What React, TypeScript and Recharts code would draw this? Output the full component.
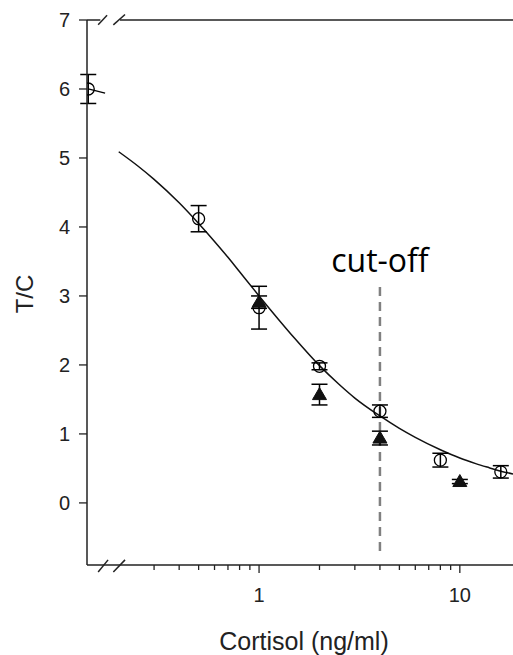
import React from 'react';
import {
  ComposedChart, XAxis, YAxis, Scatter, Line, ErrorBar, ReferenceLine, ReferenceDot, Label,
} from 'recharts';

// Open circles: mean T/C with error
const circleX = [0.141, 0.5, 1, 2, 4, 8, 16];
const circleY = [6.0, 4.12, 2.83, 1.98, 1.33, 0.62, 0.45];
const circleErr = [0.21, 0.19, 0.31, 0.05, 0.09, 0.1, 0.09];

// Filled triangles
const triX = [1, 2, 4, 10];
const triY = [2.91, 1.57, 0.94, 0.31];
const triErr = [0.09, 0.15, 0.1, 0.03];

// Fitted curve
const curveX = [0.2, 0.25, 0.3, 0.4, 0.5, 0.6, 0.7, 0.8, 1.0, 1.25, 1.5, 2.0, 2.5, 3.0, 4.0, 5.0, 6.0, 8.0, 10, 12, 14, 16, 18.4];
const curveY = [5.09, 4.88, 4.69, 4.35, 4.05, 3.79, 3.56, 3.35, 3.0, 2.66, 2.39, 1.99, 1.72, 1.52, 1.26, 1.08, 0.95, 0.77, 0.65, 0.57, 0.51, 0.46, 0.42];

const xTicks = [0.3, 0.4, 0.5, 0.6, 0.7, 0.8, 0.9, 1, 2, 3, 4, 5, 6, 7, 8, 9, 10];
const majorTicks = [1, 10];
const yTicks = [0, 1, 2, 3, 4, 5, 6, 7];

const cutoffX = 4;
const cutoffTop = 3.13;
const cutoffBottom = -0.75;

const xDomain: [number, number] = [0.139, 18.4];
const yDomain: [number, number] = [-0.9, 7];

const circles = circleX.map((x, i) => ({ x, y: circleY[i], err: circleErr[i] }));
const triangles = triX.map((x, i) => ({ x, y: triY[i], err: triErr[i] }));
const curve = curveX.map((x, i) => ({ x, y: curveY[i] }));

const AXIS = '#222';
const FONT = 'Liberation Sans, Arial, sans-serif';

const CircleShape = (p: any) => (
  <circle cx={p.cx} cy={p.cy} r={6} fill="none" stroke="#000" strokeWidth={1.3} />
);
const TriShape = (p: any) => (
  <polygon
    points={`${p.cx},${p.cy - 7} ${p.cx - 7},${p.cy + 5} ${p.cx + 7},${p.cy + 5}`}
    fill="#111"
    stroke="#111"
    strokeWidth={1}
  />
);

const XTick = (p: any) => {
  const v = p.payload.value;
  const major = majorTicks.includes(v);
  return (
    <g>
      <line x1={p.x} x2={p.x} y1={p.y} y2={p.y + (major ? 8 : 5)} stroke={AXIS} strokeWidth={1.3} />
      {major && (
        <text x={p.x} y={p.y + 23} dy="0.71em" textAnchor="middle" fontSize={20} fontFamily={FONT} fill={AXIS}>
          {v}
        </text>
      )}
    </g>
  );
};

const breakTop = [
  [{ x: 0.158, y: 6.93 }, { x: 0.175, y: 7.07 }],
  [{ x: 0.188, y: 6.93 }, { x: 0.215, y: 7.08 }],
];
const breakBottom = [
  [{ x: 0.158, y: -1.0 }, { x: 0.177, y: -0.826 }],
  [{ x: 0.188, y: -1.0 }, { x: 0.215, y: -0.826 }],
];
const topLine = [
  [{ x: 0.139, y: 7 }, { x: 0.162, y: 7 }],
  [{ x: 0.203, y: 7 }, { x: 18.4, y: 7 }],
];
const zeroTail = [{ x: 0.141, y: 6.0 }, { x: 0.171, y: 5.94 }];

export default function App() {
  return (
    <div style={{ position: 'absolute', left: 0, top: 0, background: '#fff' }}>
      <ComposedChart width={513} height={655} margin={{ top: 20, right: 0, bottom: 0, left: 0 }}>
        <XAxis
          dataKey="x"
          type="number"
          scale="log"
          domain={xDomain}
          allowDataOverflow
          ticks={xTicks}
          interval={0}
          height={90}
          tickSize={0}
          tickMargin={0}
          tickLine={false}
          tick={XTick}
          axisLine={{ stroke: AXIS, strokeWidth: 1.5 }}
          label={(props: any) => {
            const vb = props.viewBox;
            return (
              <text x={vb.x + vb.width / 2 + 4} y={650} textAnchor="middle" fontSize={25} fontFamily={FONT} fill={AXIS}>
                Cortisol (ng/ml)
              </text>
            );
          }}
        />
        <YAxis
          type="number"
          domain={yDomain}
          allowDataOverflow
          ticks={yTicks}
          interval={0}
          width={87}
          tickSize={8}
          tickMargin={9}
          tickLine={{ stroke: AXIS, strokeWidth: 1.3 }}
          axisLine={{ stroke: AXIS, strokeWidth: 1.5 }}
          tick={{ fontSize: 20, fontFamily: FONT, fill: AXIS }}
          label={() => (
            <text x={24} y={294} transform="rotate(-90 24 294)" textAnchor="middle" dominantBaseline="central" fontSize={24} fontFamily={FONT} fill={AXIS}>
              T/C
            </text>
          )}
        />
        {topLine.map((s, i) => (
          <ReferenceLine key={'t' + i} segment={s} stroke={AXIS} strokeWidth={1.5} ifOverflow="visible" />
        ))}
        {breakTop.map((s, i) => (
          <ReferenceLine key={'bt' + i} segment={s} stroke={AXIS} strokeWidth={1.5} ifOverflow="visible" />
        ))}
        {breakBottom.map((s, i) => (
          <ReferenceLine key={'bb' + i} segment={s} stroke={AXIS} strokeWidth={1.5} ifOverflow="visible" />
        ))}
        <ReferenceLine
          segment={[{ x: cutoffX, y: cutoffTop }, { x: cutoffX, y: cutoffBottom }]}
          stroke="#808080"
          strokeWidth={2.5}
          strokeDasharray="9 6"
          ifOverflow="visible"
        />
        <ReferenceDot x={cutoffX} y={cutoffTop} r={0} stroke="none" fill="none" ifOverflow="visible">
          <Label value="cut-off" position="top" offset={15} fontSize={32} fontFamily="Open Sans, sans-serif" fill="#000" />
        </ReferenceDot>
        <ReferenceLine segment={zeroTail} stroke="#000" strokeWidth={1.3} ifOverflow="visible" />
        <Line
          data={curve}
          dataKey="y"
          type="monotone"
          dot={false}
          activeDot={false}
          stroke="#111"
          strokeWidth={1.5}
          isAnimationActive={false}
        />
        <Scatter data={circles} dataKey="y" shape={CircleShape} isAnimationActive={false}>
          <ErrorBar dataKey="err" direction="y" width={8} stroke="#000" strokeWidth={1.5} />
        </Scatter>
        <Scatter data={triangles} dataKey="y" shape={TriShape} isAnimationActive={false}>
          <ErrorBar dataKey="err" direction="y" width={8} stroke="#000" strokeWidth={1.5} />
        </Scatter>
      </ComposedChart>
    </div>
  );
}
